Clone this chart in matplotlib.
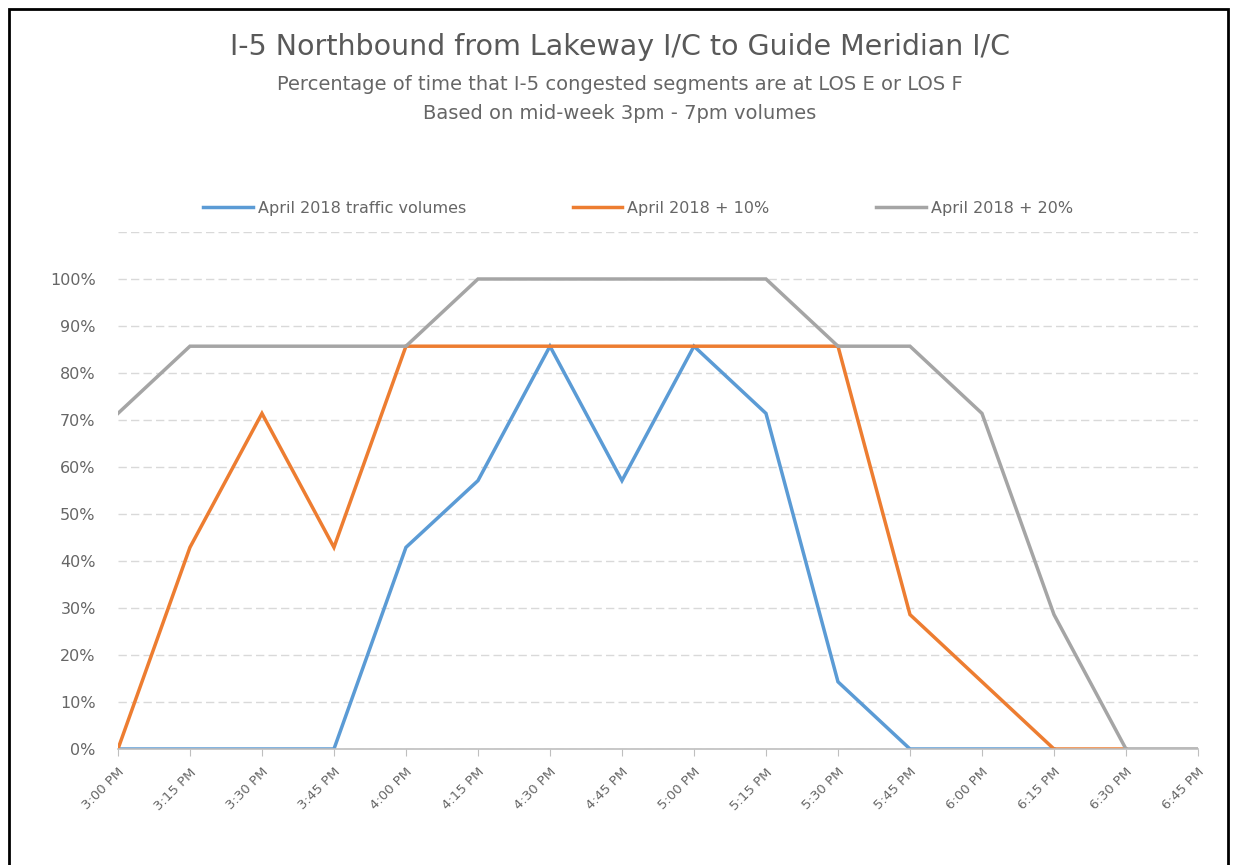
import matplotlib.pyplot as plt
from matplotlib.patches import Rectangle

# time slots and congestion shares (fractions of 7 segments)
times = ['3:00 PM', '3:15 PM', '3:30 PM', '3:45 PM', '4:00 PM', '4:15 PM',
         '4:30 PM', '4:45 PM', '5:00 PM', '5:15 PM', '5:30 PM', '5:45 PM',
         '6:00 PM', '6:15 PM', '6:30 PM', '6:45 PM']
base = [0, 0, 0, 0, 42.9, 57.1, 85.7, 57.1, 85.7, 71.4, 14.3, 0, 0, 0]
plus10 = [0, 42.9, 71.4, 42.9, 85.7, 85.7, 85.7, 85.7, 85.7, 85.7, 85.7,
          28.6, 14.3, 0, 0]
plus20 = [71.4, 85.7, 85.7, 85.7, 85.7, 100, 100, 100, 100, 100, 85.7,
          85.7, 71.4, 28.6, 0, 0]
labels = ['April 2018 traffic volumes', 'April 2018 + 10%', 'April 2018 + 20%']
colors = ['#5b9bd5', '#ed7d31', '#a5a5a5']
yticks = [0, 10, 20, 30, 40, 50, 60, 70, 80, 90, 100, 110]
ytick_labels = ['0%', '10%', '20%', '30%', '40%', '50%', '60%', '70%',
                '80%', '90%', '100%', '']

plt.rcParams['font.family'] = ['DejaVu Sans']
txt = '#666666'

fig = plt.figure(figsize=(12.39, 8.65), dpi=100)
ax = fig.add_axes([0.0952, 0.1341, 0.8717, 0.5977])

for series, lab, col in zip([base, plus10, plus20], labels, colors):
    ax.plot(range(len(series)), series, color=col, linewidth=2.5, label=lab,
            solid_joinstyle='miter')

ax.set_xlim(0, len(times) - 1)
ax.set_ylim(0, 110)
ax.set_yticks(yticks)
ax.set_yticklabels(ytick_labels, fontsize=11.5, color=txt)
ax.set_xticks(range(len(times)))
ax.set_xticklabels(times, fontsize=9.5, color=txt, rotation=45,
                   ha='right', va='top', rotation_mode='anchor')
ax.tick_params(axis='y', length=0, pad=16)
ax.tick_params(axis='x', length=5, color='#bfbfbf', direction='out', pad=7)

ax.grid(axis='y', color='#d9d9d9', linestyle=(0, (6, 3)), linewidth=1)
for s in ['top', 'right', 'left']:
    ax.spines[s].set_visible(False)
ax.spines['bottom'].set_color('#bfbfbf')
ax.spines['bottom'].set_linewidth(1.2)
ax.set_axisbelow(True)

fig.text(0.5, 0.946, 'I-5 Northbound from Lakeway I/C to Guide Meridian I/C',
         ha='center', va='center', fontsize=20.5, color='#595959')
fig.text(0.5, 0.902, 'Percentage of time that I-5 congested segments are at LOS E or LOS F',
         ha='center', va='center', fontsize=14, color=txt)
fig.text(0.5, 0.869, 'Based on mid-week 3pm - 7pm volumes',
         ha='center', va='center', fontsize=14, color=txt)

fig.legend(loc='center', bbox_to_anchor=(0.515, 0.759), ncol=3, frameon=False,
           fontsize=11.5, labelcolor=txt, handlelength=3.1,
           handletextpad=0.3, columnspacing=6.7)

# black frame around the picture
fig.patches.append(Rectangle((0.007, -0.01), 0.984, 1.0, transform=fig.transFigure,
                             fill=False, edgecolor='black', linewidth=2))

fig.savefig('out.png', dpi=100)
